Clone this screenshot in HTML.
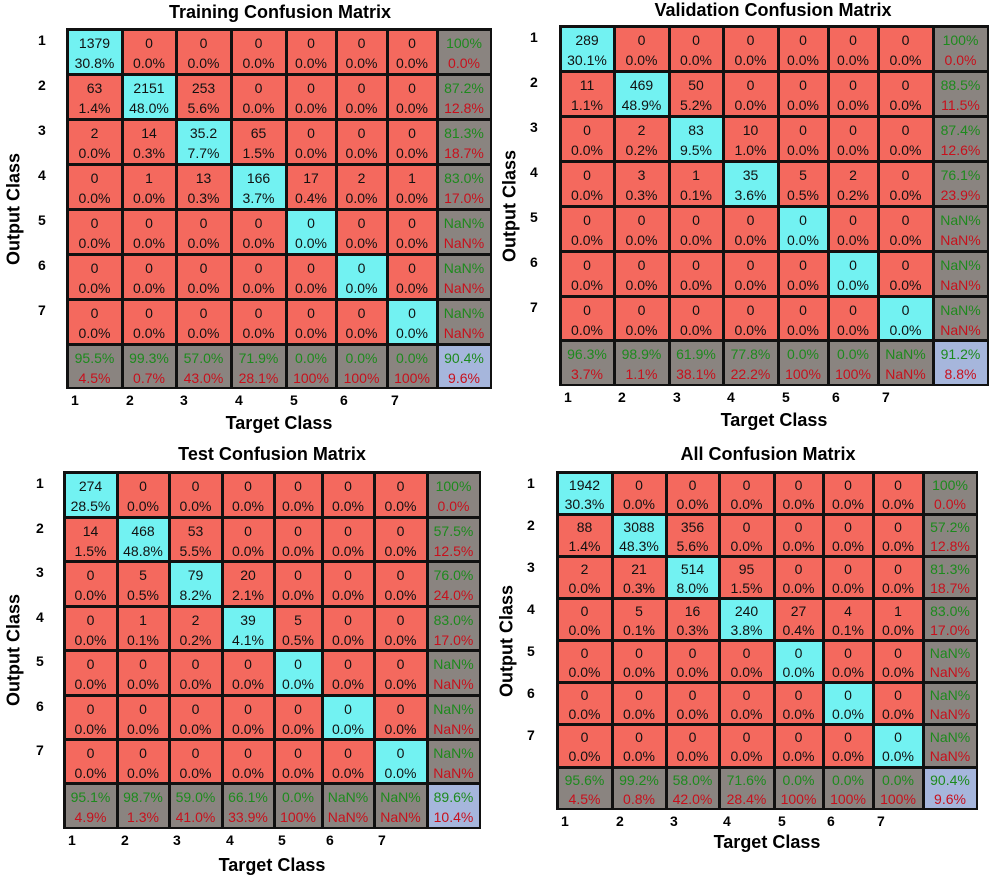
<!DOCTYPE html>
<html><head><meta charset="utf-8"><style>
body{margin:0;width:990px;height:879px;background:#fff;position:relative;overflow:hidden;font-family:"Liberation Sans",sans-serif}
.a{position:absolute}
.c{position:absolute;box-sizing:border-box;font-size:14px;text-align:center;line-height:20px;padding-top:2px;color:#111}
.t{position:absolute;font-weight:bold;font-size:18px;white-space:nowrap;transform:translateX(-50%)}
.l{position:absolute;font-weight:bold;font-size:14px}
.y{position:absolute;font-weight:bold;font-size:18px;white-space:nowrap;transform:translate(-50%,-50%) rotate(-90deg)}
</style></head><body>
<script>
const P=[
{title:"Training Confusion Matrix",tx:280,ty:2,cols:[67,122,176,231,286,336,387,437,491],rows:[29,74,119,164,209,254,299,344,388],rlx:38,cly:392,tcy:413,ocx:14,
m:[["1379","30.8%","0","0.0%","0","0.0%","0","0.0%","0","0.0%","0","0.0%","0","0.0%"],
["63","1.4%","2151","48.0%","253","5.6%","0","0.0%","0","0.0%","0","0.0%","0","0.0%"],
["2","0.0%","14","0.3%","35.2","7.7%","65","1.5%","0","0.0%","0","0.0%","0","0.0%"],
["0","0.0%","1","0.0%","13","0.3%","166","3.7%","17","0.4%","2","0.0%","1","0.0%"]],
r:[["100%","0.0%"],["87.2%","12.8%"],["81.3%","18.7%"],["83.0%","17.0%"],["NaN%","NaN%"],["NaN%","NaN%"],["NaN%","NaN%"]],
b:[["95.5%","4.5%"],["99.3%","0.7%"],["57.0%","43.0%"],["71.9%","28.1%"],["0.0%","100%"],["0.0%","100%"],["0.0%","100%"],["90.4%","9.6%"]]},
{title:"Validation Confusion Matrix",tx:773,ty:0,cols:[560,614,669,723,778,828,878,933,988],rows:[26,71,116,161,206,251,296,340,385],rlx:530,cly:389,tcy:410,ocx:510,
m:[["289","30.1%","0","0.0%","0","0.0%","0","0.0%","0","0.0%","0","0.0%","0","0.0%"],
["11","1.1%","469","48.9%","50","5.2%","0","0.0%","0","0.0%","0","0.0%","0","0.0%"],
["0","0.0%","2","0.2%","83","9.5%","10","1.0%","0","0.0%","0","0.0%","0","0.0%"],
["0","0.0%","3","0.3%","1","0.1%","35","3.6%","5","0.5%","2","0.2%","0","0.0%"]],
r:[["100%","0.0%"],["88.5%","11.5%"],["87.4%","12.6%"],["76.1%","23.9%"],["NaN%","NaN%"],["NaN%","NaN%"],["NaN%","NaN%"]],
b:[["96.3%","3.7%"],["98.9%","1.1%"],["61.9%","38.1%"],["77.8%","22.2%"],["0.0%","100%"],["0.0%","100%"],["NaN%","NaN%"],["91.2%","8.8%"]]},
{title:"Test Confusion Matrix",tx:272,ty:444,cols:[64,117,169,222,274,322,374,427,480],rows:[472,517,561,606,650,695,739,783,828],rlx:36,cly:832,tcy:855,ocx:14,
m:[["274","28.5%","0","0.0%","0","0.0%","0","0.0%","0","0.0%","0","0.0%","0","0.0%"],
["14","1.5%","468","48.8%","53","5.5%","0","0.0%","0","0.0%","0","0.0%","0","0.0%"],
["0","0.0%","5","0.5%","79","8.2%","20","2.1%","0","0.0%","0","0.0%","0","0.0%"],
["0","0.0%","1","0.1%","2","0.2%","39","4.1%","5","0.5%","0","0.0%","0","0.0%"]],
r:[["100%","0.0%"],["57.5%","12.5%"],["76.0%","24.0%"],["83.0%","17.0%"],["NaN%","NaN%"],["NaN%","NaN%"],["NaN%","NaN%"]],
b:[["95.1%","4.9%"],["98.7%","1.3%"],["59.0%","41.0%"],["66.1%","33.9%"],["0.0%","100%"],["NaN%","NaN%"],["NaN%","NaN%"],["89.6%","10.4%"]]},
{title:"All Confusion Matrix",tx:768,ty:444,cols:[557,612,666,719,774,823,873,923,977],rows:[472,514,556,598,640,682,724,767,809],rlx:527,cly:813,tcy:832,ocx:507,
m:[["1942","30.3%","0","0.0%","0","0.0%","0","0.0%","0","0.0%","0","0.0%","0","0.0%"],
["88","1.4%","3088","48.3%","356","5.6%","0","0.0%","0","0.0%","0","0.0%","0","0.0%"],
["2","0.0%","21","0.3%","514","8.0%","95","1.5%","0","0.0%","0","0.0%","0","0.0%"],
["0","0.0%","5","0.1%","16","0.3%","240","3.8%","27","0.4%","4","0.1%","1","0.0%"]],
r:[["100%","0.0%"],["57.2%","12.8%"],["81.3%","18.7%"],["83.0%","17.0%"],["NaN%","NaN%"],["NaN%","NaN%"],["NaN%","NaN%"]],
b:[["95.6%","4.5%"],["99.2%","0.8%"],["58.0%","42.0%"],["71.6%","28.4%"],["0.0%","100%"],["0.0%","100%"],["0.0%","100%"],["90.4%","9.6%"]]}
];
let h="";
for(const p of P){
 const C=p.cols,R=p.rows;
 h+=`<div class="t" style="left:${p.tx}px;top:${p.ty}px">${p.title}</div>`;
 h+=`<div class="a" style="left:${C[0]-1}px;top:${R[0]-1}px;width:${C[8]-C[0]+2}px;height:${R[8]-R[0]+2}px;background:#111"></div>`;
 for(let i=0;i<8;i++)for(let j=0;j<8;j++){
  const x=C[j]+1.5,y=R[i]+1.5,w=C[j+1]-C[j]-3,hh=R[i+1]-R[i]-3;
  let bg,t1,t2,c1="#111",c2="#111";
  if(i<7&&j<7){bg=i==j?"#72f2f2":"#f4695e";
   if(i<4){t1=p.m[i][2*j];t2=p.m[i][2*j+1];}else{t1="0";t2="0.0%";}}
  else if(i<7){bg="#8a8480";t1=p.r[i][0];t2=p.r[i][1];c1="#1d8a1d";c2="#c8101c";}
  else {bg=j==7?"#a6b6dc":"#8a8480";t1=p.b[j][0];t2=p.b[j][1];c1="#1d8a1d";c2="#c8101c";}
  const lh=Math.round(hh/2-1);
  h+=`<div class="c" style="left:${x}px;top:${y}px;width:${w}px;height:${hh}px;background:${bg};line-height:${lh}px"><span style="color:${c1}">${t1}</span><br><span style="color:${c2}">${t2}</span></div>`;
 }
 for(let i=0;i<7;i++){
  h+=`<div class="l" style="left:${p.rlx}px;top:${R[i]+3}px">${i+1}</div>`;
  h+=`<div class="l" style="left:${C[i]+4}px;top:${p.cly}px">${i+1}</div>`;
 }
 h+=`<div class="t" style="left:${(C[0]+C[8])/2}px;top:${p.tcy}px">Target Class</div>`;
 h+=`<div class="y" style="left:${p.ocx}px;top:${(R[0]+R[8])/2}px">Output Class</div>`;
}
document.write(h);
</script>
</body></html>
